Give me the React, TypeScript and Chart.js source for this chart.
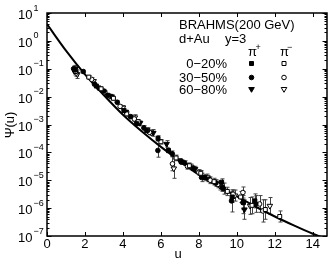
import React, { useEffect, useRef } from 'react';
import { Chart, registerables } from 'chart.js';

Chart.register(...registerables);

// Fitted curve Psi(u)
const curveU = [0, 1, 2, 3, 4, 5, 6, 7, 8, 9, 10, 11, 12, 13, 14, 14.6];
const curveY = [3.98, 4.47e-1, 6.31e-2, 1.12e-2, 2.24e-3, 5.62e-4, 1.58e-4, 5.01e-5, 1.58e-5, 6.31e-6, 2.63e-6, 1.12e-6, 5.01e-7, 2.4e-7, 1.2e-7, 8.3e-8];

// [u, Psi(u), error factor (bar spans value/f .. value*f)]
const piPlus0020: number[][] = [
  [1.45, 8.91e-2, 1.32], [2.6, 2.4e-2, 1.15], [3.2, 1.12e-2, 1.15], [4.05, 3.16e-3, 1.15],
  [4.72, 1.07e-3, 1.15], [5.25, 6.03e-4, 1.2], [5.85, 3.16e-4, 1.26], [6.4, 1.17e-4, 1.2],
  [7.1, 4.47e-5, 1.2], [7.7, 2.63e-5, 1.2], [8.3, 1.26e-5, 1.26], [9.2, 8.51e-6, 1.32],
  [9.75, 2.51e-6, 1.58], [10.35, 1.58e-6, 1.78], [10.95, 1.82e-6, 1.78],
];
const piMinus0020: number[][] = [
  [1.5, 7.94e-2, 1.32], [2.2, 5.01e-2, 1.15], [2.85, 1.91e-2, 1.15], [3.5, 8.71e-3, 1.15],
  [4.2, 2.4e-3, 1.2], [4.8, 1.26e-3, 1.2], [5.3, 6.31e-4, 1.2], [6.0, 2.4e-4, 1.2],
  [6.8, 6.31e-5, 1.26], [7.5, 3.31e-5, 1.26], [8.1, 1.78e-5, 1.26], [8.8, 8.91e-6, 1.32],
  [9.5, 3.98e-6, 1.41], [10.2, 2.51e-6, 1.58], [10.8, 1.26e-6, 2.0], [11.5, 8.91e-7, 2.24],
  [12.26, 5.01e-7, 1.58],
];
const piPlus3050: number[][] = [
  [1.4, 1.0e-1, 1.26], [1.91, 7.94e-2, 1.12], [2.5, 2.82e-2, 1.15], [3.0, 1.58e-2, 1.15],
  [3.7, 6.31e-3, 1.15], [4.4, 1.91e-3, 1.15], [5.1, 7.59e-4, 1.2], [5.84, 1.17e-4, 1.74],
  [6.6, 8.91e-5, 1.26], [7.25, 4.17e-5, 1.2], [8.14, 1.26e-5, 1.41], [8.9, 7.94e-6, 1.32],
  [9.3, 5.01e-6, 1.58], [9.72, 1.82e-6, 2.5], [10.32, 1.58e-6, 2.5], [11.0, 1.41e-6, 2.0],
];
const piMinus3050: number[][] = [
  [1.55, 7.08e-2, 1.32], [2.35, 4.17e-2, 1.15], [3.05, 1.41e-2, 1.15], [3.85, 4.47e-3, 1.15],
  [4.6, 1.58e-3, 1.2], [5.4, 5.25e-4, 1.2], [6.61, 3.89e-5, 1.78], [7.4, 3.16e-5, 1.26],
  [8.0, 1.91e-5, 1.26], [8.6, 1.0e-5, 1.32], [9.0, 7.08e-6, 1.32], [9.8, 3.16e-6, 1.41],
  [10.32, 3.63e-6, 1.58], [11.2, 1.41e-6, 2.0], [11.37, 7.94e-7, 2.51],
];
const piPlus6080: number[][] = [
  [1.5, 1.0e-1, 1.32], [2.7, 2.09e-2, 1.15], [3.4, 1.0e-2, 1.15], [4.15, 2.82e-3, 1.15],
  [4.9, 1.12e-3, 1.2], [5.6, 5.01e-4, 1.32], [6.3, 2.0e-4, 1.32], [7.0, 5.01e-5, 1.2],
  [7.8, 2.51e-5, 1.26], [8.5, 1.12e-5, 1.26], [9.2, 5.62e-6, 1.41], [10.4, 8.91e-7, 2.24],
];
const piMinus6080: number[][] = [
  [1.6, 6.31e-2, 1.41], [2.45, 3.55e-2, 1.15], [3.3, 1.05e-2, 1.15], [4.0, 3.98e-3, 1.2],
  [4.63, 1.78e-3, 1.26], [5.5, 5.01e-4, 1.2], [6.68, 2.63e-5, 2.24], [7.6, 3.02e-5, 1.26],
  [8.45, 1.26e-5, 1.32], [9.1, 6.31e-6, 1.41], [9.9, 2.82e-6, 1.58], [10.7, 1.2e-6, 2.0],
  [11.74, 1.2e-6, 2.0],
];

const xTicks = [0, 2, 4, 6, 8, 10, 12, 14];
const yExponents = [1, 0, -1, -2, -3, -4, -5, -6, -7];
const titleLines = ['BRAHMS(200 GeV)', 'd+Au', 'y=3'];
const centralityLabels = ['0\u221220%', '30\u221250%', '60\u221280%'];

const FONT = '"Liberation Sans", Arial, sans-serif';

type Marker = { style: string; filled: boolean };
const markers: Marker[] = [
  { style: 'rect', filled: true }, { style: 'rect', filled: false },
  { style: 'circle', filled: true }, { style: 'circle', filled: false },
  { style: 'tri', filled: true }, { style: 'tri', filled: false },
];

function drawMarker(ctx: CanvasRenderingContext2D, m: Marker, x: number, y: number) {
  ctx.save();
  ctx.beginPath();
  if (m.style === 'rect') {
    ctx.rect(x - 2, y - 2, 4, 4);
  } else if (m.style === 'circle') {
    ctx.arc(x, y, 2.3, 0, Math.PI * 2);
  } else {
    ctx.moveTo(x - 2.8, y - 2);
    ctx.lineTo(x + 2.8, y - 2);
    ctx.lineTo(x, y + 2.8);
    ctx.closePath();
  }
  ctx.fillStyle = m.filled ? '#000' : '#fff';
  ctx.fill();
  ctx.lineWidth = 1;
  ctx.strokeStyle = '#000';
  ctx.stroke();
  ctx.restore();
}

const seriesList = [piPlus0020, piMinus0020, piPlus3050, piMinus3050, piPlus6080, piMinus6080];

const errorBarPlugin = {
  id: 'errBars',
  beforeDatasetsDraw(chart: any) {
    const { ctx, chartArea: a } = chart;
    const xs = chart.scales.x;
    const ys = chart.scales.y;
    ctx.save();
    ctx.beginPath();
    ctx.rect(a.left, a.top, a.right - a.left, a.bottom - a.top);
    ctx.clip();
    ctx.strokeStyle = '#444';
    ctx.lineWidth = 1;
    seriesList.forEach((s) => {
      s.forEach(([u, v, f]) => {
        const px = Math.round(xs.getPixelForValue(u)) + 0.5;
        const yHi = ys.getPixelForValue(v * f);
        const yLo = ys.getPixelForValue(v / f);
        ctx.beginPath();
        ctx.moveTo(px, yHi);
        ctx.lineTo(px, yLo);
        ctx.moveTo(px - 2, yHi);
        ctx.lineTo(px + 2, yHi);
        ctx.moveTo(px - 2, yLo);
        ctx.lineTo(px + 2, yLo);
        ctx.stroke();
      });
    });
    ctx.restore();
  },
};

const framePlugin = {
  id: 'frame',
  afterDraw(chart: any) {
    const { ctx, chartArea: a } = chart;
    const xs = chart.scales.x;
    const ys = chart.scales.y;
    ctx.save();
    ctx.strokeStyle = '#000';
    ctx.lineWidth = 1.5;
    ctx.strokeRect(a.left, a.top, a.right - a.left, a.bottom - a.top);
    ctx.lineWidth = 1;
    ctx.beginPath();
    xTicks.forEach((t) => {
      const px = Math.round(xs.getPixelForValue(t)) + 0.5;
      ctx.moveTo(px, a.bottom);
      ctx.lineTo(px, a.bottom - 4);
      ctx.moveTo(px, a.top);
      ctx.lineTo(px, a.top + 4);
    });
    yExponents.forEach((e) => {
      for (let m = 1; m <= 9; m++) {
        const v = m * Math.pow(10, e);
        if (v > 10.0001 || v < 1e-7 * 0.999) continue;
        const py = Math.round(ys.getPixelForValue(v)) + 0.5;
        const len = m === 1 ? 4.5 : 2.5;
        ctx.moveTo(a.left, py);
        ctx.lineTo(a.left + len, py);
        ctx.moveTo(a.right, py);
        ctx.lineTo(a.right - len, py);
      }
    });
    ctx.stroke();

    ctx.fillStyle = '#000';
    // x tick labels
    ctx.font = `13px ${FONT}`;
    ctx.textAlign = 'center';
    ctx.textBaseline = 'alphabetic';
    xTicks.forEach((t) => {
      ctx.fillText(String(t), xs.getPixelForValue(t), 248);
    });
    // y tick labels 10^e
    yExponents.forEach((e) => {
      const py = ys.getPixelForValue(Math.pow(10, e));
      ctx.font = `13px ${FONT}`;
      ctx.textAlign = 'right';
      ctx.fillText('10', 32.5, py + 6);
      ctx.font = `9px ${FONT}`;
      ctx.textAlign = 'left';
      ctx.fillText(e < 0 ? '\u2212' + Math.abs(e) : String(e), 33.5, py - 2.5);
    });
    // axis titles
    ctx.font = `13px ${FONT}`;
    ctx.textAlign = 'center';
    ctx.fillText('u', 178, 258);
    ctx.save();
    ctx.translate(14, 125);
    ctx.rotate(-Math.PI / 2);
    ctx.textBaseline = 'alphabetic';
    ctx.fillText('\u03A8(u)', 0, 0);
    ctx.restore();

    // legend block
    ctx.textAlign = 'left';
    ctx.font = `13px ${FONT}`;
    ctx.fillText(titleLines[0], 179, 29);
    ctx.fillText(titleLines[1], 179, 43);
    ctx.fillText(titleLines[2], 225, 43);
    ctx.fillText('\u03C0', 248, 56);
    ctx.fillText('\u03C0', 280, 56);
    ctx.font = `9px ${FONT}`;
    ctx.fillText('+', 255.5, 50);
    ctx.fillText('\u2212', 287, 50);
    ctx.font = `13px ${FONT}`;
    ctx.textAlign = 'right';
    const rowsY = [63.5, 77.5, 89.5];
    centralityLabels.forEach((lab, i) => {
      ctx.fillText(lab, 227, rowsY[i] + 4.5);
      drawMarker(ctx, markers[2 * i], 251.5, rowsY[i]);
      drawMarker(ctx, markers[2 * i + 1], 284, rowsY[i]);
    });
    ctx.restore();
  },
};

function scatterDataset(s: number[][], m: Marker) {
  return {
    type: 'scatter' as const,
    data: s.map(([u, v]) => ({ x: u, y: v })),
    pointStyle: m.style === 'tri' ? 'triangle' : m.style,
    rotation: m.style === 'tri' ? 180 : 0,
    pointRadius: m.style === 'rect' ? 2.8 : m.style === 'circle' ? 2.3 : 3.2,
    backgroundColor: m.filled ? '#000' : '#fff',
    borderColor: '#000',
    borderWidth: 1,
    showLine: false,
  };
}

export default function App() {
  const ref = useRef<HTMLCanvasElement | null>(null);
  useEffect(() => {
    if (!ref.current) return;
    const datasets: any[] = seriesList.map((s, i) => scatterDataset(s, markers[i]));
    datasets.push({
      type: 'line',
      data: curveU.map((u, i) => ({ x: u, y: curveY[i] })),
      borderColor: '#000',
      borderWidth: 2,
      pointRadius: 0,
      cubicInterpolationMode: 'monotone',
      fill: false,
    });
    const chart = new Chart(ref.current, {
      type: 'scatter',
      data: { datasets },
      options: {
        animation: false,
        responsive: false,
        maintainAspectRatio: false,
        devicePixelRatio: 1,
        layout: { padding: { left: 47, right: 5, top: 13, bottom: 28 } },
        plugins: { legend: { display: false }, tooltip: { enabled: false }, title: { display: false } },
        scales: {
          x: { type: 'linear', min: 0, max: 14.75, display: false },
          y: { type: 'logarithmic', min: 1e-7, max: 10, display: false },
        },
      },
      plugins: [errorBarPlugin, framePlugin],
    });
    return () => chart.destroy();
  }, []);
  return (
    <div style={{ position: 'fixed', left: 0, top: 0, width: 332, height: 264, background: '#fff' }}>
      <canvas ref={ref} width={332} height={264} style={{ width: 332, height: 264, display: 'block' }} />
    </div>
  );
}
